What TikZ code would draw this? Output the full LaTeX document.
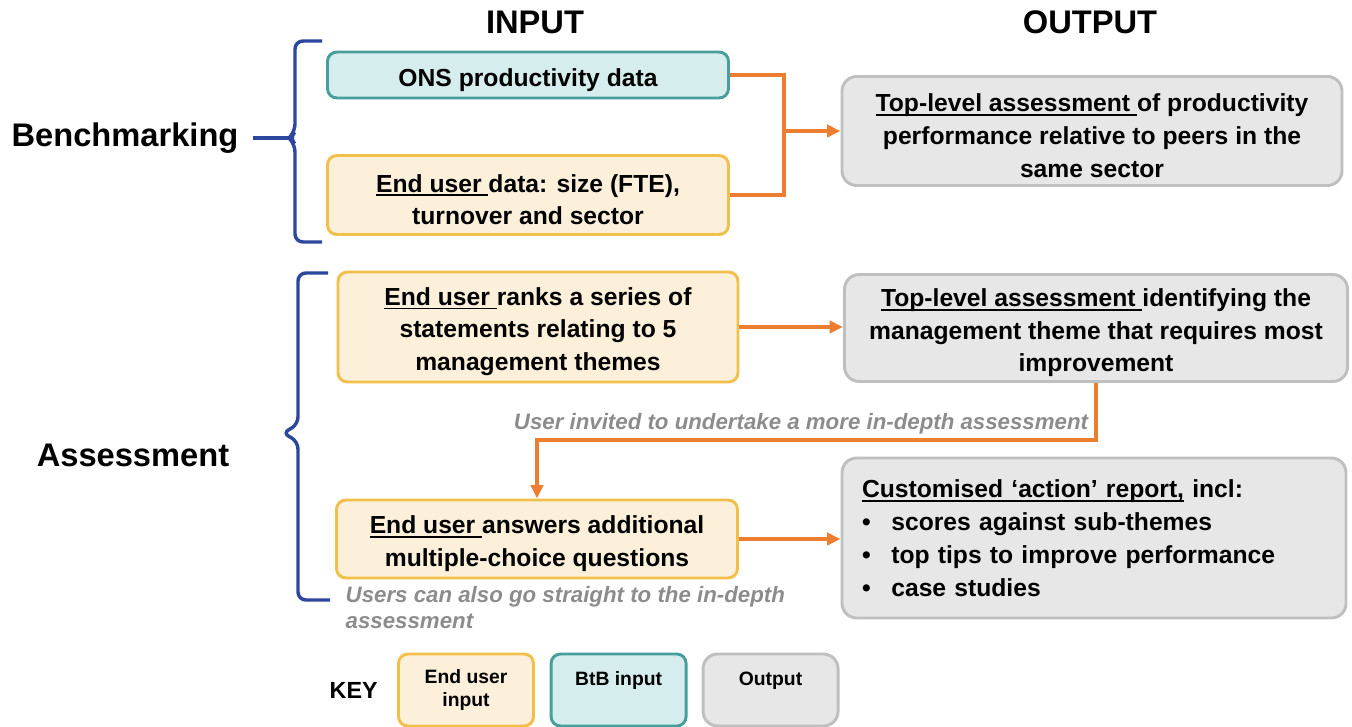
\documentclass[tikz,border=0pt]{standalone}
\usepackage{fontspec}
\setmainfont{Liberation Sans}
\usetikzlibrary{positioning}
\usetikzlibrary{arrows.meta}

\definecolor{userline}{HTML}{F2BF4A}
\definecolor{userfill}{HTML}{FCF0DA}
\definecolor{btbline}{HTML}{479E9C}
\definecolor{btbfill}{HTML}{D6EDED}
\definecolor{outgray}{HTML}{BFBFBF}
\definecolor{outfill}{HTML}{E7E7E7}
\definecolor{flowcol}{HTML}{ED7D31}
\definecolor{bracecol}{HTML}{2E479E}
\definecolor{notegray}{HTML}{8C8C8C}

\newcommand{\undl}[1]{\setbox0=\hbox{#1}\rlap{\rule[-3.2pt]{\wd0}{1.4pt}}\box0\relax}

\begin{document}
\begin{tikzpicture}[x=0.75pt,y=-0.75pt,
        node distance = 12pt,
        box/.style = {draw,line width=2.2pt,rounded corners=7pt,align=center,
            font=\fontsize{18.5}{24.6}\selectfont\bfseries},
        lift/.style = {execute at begin node={\vbox\bgroup\kern7pt},
            execute at end node={\egroup}},
        userbox/.style = {box,draw=userline,fill=userfill},
        btbbox/.style = {box,draw=btbline,fill=btbfill},
        outbox/.style = {box,draw=outgray,fill=outfill,rounded corners=11pt},
        keybox/.style = {minimum width=101.25pt,minimum height=54pt,
            font=\fontsize{14.5}{17}\selectfont\bfseries},
        head/.style = {font=\fontsize{24.5}{28}\selectfont\bfseries},
        note/.style = {text=notegray,align=left,
            font=\fontsize{16.7}{19.5}\selectfont\bfseries\itshape},
        link/.style = {draw=flowcol,line width=2.5pt},
        flow/.style = {link,-{Triangle[length=10pt,width=9pt]}},
        brace/.style = {draw=bracecol,line width=2.6pt,rounded corners=6pt}]
    \useasboundingbox (0,0) rectangle (1352,727);

    \node[head] (hin) at (535,22) {INPUT};
    \node[head] (hout) at (1090,22) {OUTPUT};
    \node[head] (bench) at (125,138) {Benchmarking};
    \node[head] (assess) at (133,455) {Assessment};

    \node[btbbox,lift,minimum width=300.75pt,minimum height=34.5pt] (ons) at (528,75)
        {ONS productivity data};
    \node[userbox,lift,minimum width=300.75pt,minimum height=59.25pt] (eudata) at (528,195)
        {\undl{End user }data: size (FTE),\\turnover and sector};
    \node[outbox,lift,minimum width=375pt,minimum height=81.75pt] (out1) at (1092,131)
        {\undl{Top-level assessment }of productivity\\performance relative to peers in the\\same sector};

    \node[userbox,lift,minimum width=300pt,minimum height=82.5pt] (ranks) at (538,327)
        {\undl{End user }ranks a series of\\statements relating to 5\\management themes};
    \node[outbox,lift,minimum width=377.25pt,minimum height=80.25pt] (out2) at (1096,328)
        {\undl{Top-level assessment }identifying the\\management theme that requires most\\improvement};
    \node[userbox,lift,minimum width=300.75pt,minimum height=58.5pt] (answers) at (537,539)
        {\undl{End user }answers additional\\multiple-choice questions};
    \node[outbox,minimum width=378pt,minimum height=120pt,align=left,
        text width=348pt,inner xsep=15pt] (out3) at (1094,538)
        {\undl{Customised ‘action’ report,} incl:\\
         \makebox[22pt][l]{\textbullet}scores against sub-themes\\
         \makebox[22pt][l]{\textbullet}top tips to improve performance\\
         \makebox[22pt][l]{\textbullet}case studies};

    \node[note] (invite) at (801,424)
        {User invited to undertake a more in-depth assessment};
    \node[note,anchor=west] (straight) at (341,608)
        {Users can also go straight to the in-depth\\assessment};

    \coordinate (merge) at (784,131);
    \coordinate (turn) at (0,440);
    \path[link] (ons.east) -| (merge) |- (eudata.east);
    \path[flow] (merge) -- (out1.west);
    \path[flow] (ranks.east) -- (ranks.east -| out2.west);
    \path[flow] (out2.south) -- (out2.south |- turn) -- (answers.north |- turn) -- (answers.north);
    \path[flow] (answers.east) -- (answers.east -| out3.west);

    \path[brace] (322,41) -- (295,41) -- (295,132) -- (289,138) -- (295,144) -- (295,242) -- (322,242);
    \path[brace,shorten >=7.5pt] (291,138) -- (bench.east);
    \path[brace] (328,273) -- (298,273) -- (298,425) -- (282,433) -- (298,441) -- (298,600) -- (330,600);

    \node[userbox,keybox] (k1) at (466,690) {End user\\input};
    \node[btbbox,keybox,right=11pt of k1] (k2) {BtB input\\~};
    \node[outbox,keybox,right=10.5pt of k2] (k3) {Output\\~};
    \node[font=\fontsize{17.5}{20}\selectfont\bfseries,left=11pt of k1] (key) {KEY};
\end{tikzpicture}
\end{document}
